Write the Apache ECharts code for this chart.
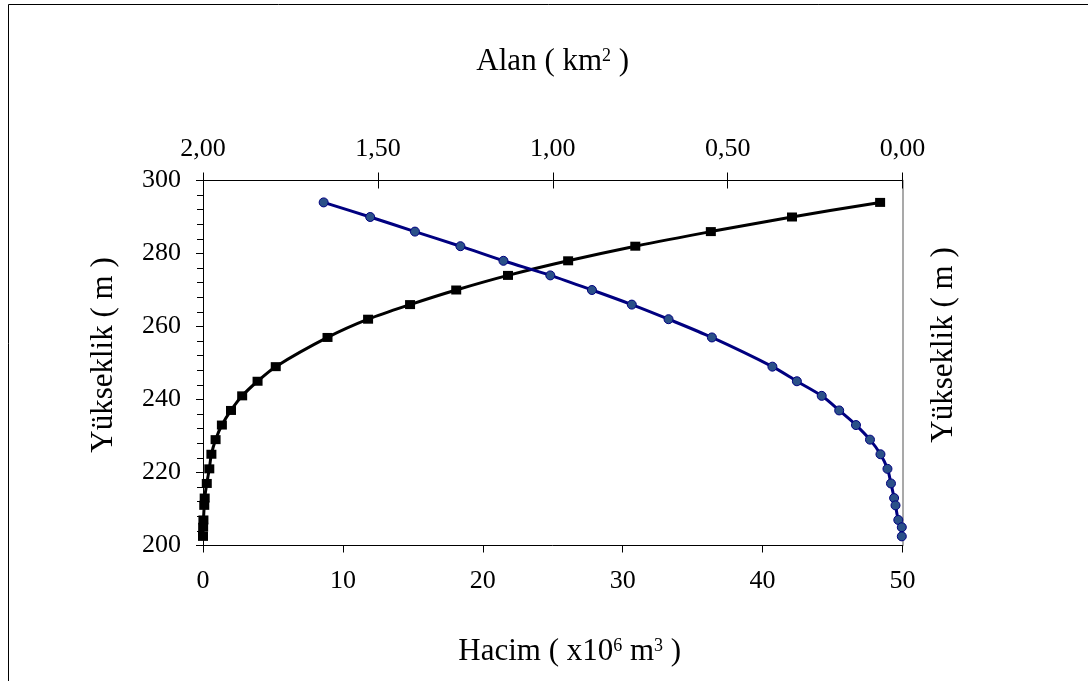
<!DOCTYPE html>
<html>
<head>
<meta charset="utf-8">
<script src="https://cdn.jsdelivr.net/npm/echarts@6/dist/echarts.min.js"></script>
<style>
  html, body { margin: 0; padding: 0; background: #fff; }
  #chart { width: 1088px; height: 681px; }
</style>
</head>
<body>
<div id="chart"></div>
<script>
// Yükseklik (m) – ortak eksen
const elevations = [294, 290, 286, 282, 278, 274, 270, 266, 262, 257, 249, 245, 241, 237, 233, 229, 225, 221, 217, 213, 211, 207, 205, 202.5];
// Hacim (x10^6 m3)
const volumes = [48.4, 42.1, 36.3, 30.9, 26.1, 21.8, 18.1, 14.8, 11.8, 8.9, 5.2, 3.9, 2.8, 2.0, 1.35, 0.9, 0.6, 0.45, 0.27, 0.12, 0.09, 0.03, 0.01, 0.0];
// Alan (km2)
const areas = [1.655, 1.522, 1.394, 1.264, 1.141, 1.007, 0.888, 0.774, 0.669, 0.545, 0.372, 0.302, 0.231, 0.181, 0.133, 0.093, 0.063, 0.043, 0.033, 0.024, 0.02, 0.012, 0.002, 0.002];

const FONT = "'Liberation Serif', 'Times New Roman', serif";
const nameRich = {
  t: { fontFamily: FONT, fontSize: 31, color: '#000', lineHeight: 34 },
  s: { fontFamily: FONT, fontSize: 18, color: '#000', verticalAlign: 'top', lineHeight: 34, padding: [3, 0, 0, 0] },
};
const tickLabel = { fontFamily: FONT, fontSize: 26, color: '#000' };

const chart = echarts.init(document.getElementById('chart'));
chart.setOption({
  animation: false,
  backgroundColor: '#fff',
  // dış çerçeve
  graphic: [
    {
      type: 'rect',
      shape: { x: 8.5, y: 4.5, width: 1200, height: 800 },
      style: { fill: 'none', stroke: '#000', lineWidth: 1 },
      silent: true,
    },
  ],
  grid: {
    left: 203,
    top: 180.5,
    width: 699.5,
    height: 365,
    containLabel: false,
  },
  xAxis: [
    {
      type: 'value',
      position: 'bottom',
      min: 0,
      max: 50,
      interval: 10,
      name: '{t|Hacim ( x10}{s|6}{t| m}{s|3}{t| )}',
      nameLocation: 'middle',
      nameGap: 89,
      nameTextStyle: { rich: nameRich, padding: [0, 0, 0, 34] },
      axisLine: { onZero: false, lineStyle: { color: '#000', width: 1 } },
      axisTick: { inside: false, length: 7, lineStyle: { color: '#000' } },
      axisLabel: Object.assign({ margin: 23 }, tickLabel),
      splitLine: { show: false },
    },
    {
      type: 'value',
      position: 'top',
      min: 0,
      max: 2,
      interval: 0.5,
      inverse: true,
      name: '{t|Alan ( km}{s|2}{t| )}',
      nameLocation: 'middle',
      nameGap: 102,
      nameTextStyle: { rich: nameRich },
      axisLine: { onZero: false, lineStyle: { color: '#000', width: 1 } },
      axisTick: { inside: false, length: 8, lineStyle: { color: '#000' } },
      axisLabel: Object.assign({
        margin: 18,
        formatter: (v) => v.toFixed(2).replace('.', ','),
      }, tickLabel),
      splitLine: { show: false },
    },
    {
      // üst eksen çentiklerinin iç kısmı
      type: 'value',
      position: 'top',
      min: 0,
      max: 2,
      interval: 0.5,
      inverse: true,
      axisLine: { show: false },
      axisTick: { inside: true, length: 8, lineStyle: { color: '#000' } },
      axisLabel: { show: false },
      splitLine: { show: false },
    },
  ],
  yAxis: [
    {
      type: 'value',
      position: 'left',
      min: 200,
      max: 300,
      interval: 20,
      name: '{t|Yükseklik ( m )}',
      nameLocation: 'middle',
      nameRotate: 90,
      nameGap: 82,
      nameTextStyle: { rich: nameRich, padding: [0, 0, 0, 16] },
      axisLine: { show: true, onZero: false, lineStyle: { color: '#000', width: 1 } },
      axisTick: { show: true, inside: false, length: 7, lineStyle: { color: '#000' } },
      minorTick: { show: true, splitNumber: 5, length: 6, lineStyle: { color: '#000' } },
      axisLabel: Object.assign({ margin: 22 }, tickLabel),
      splitLine: { show: false },
    },
    {
      type: 'value',
      position: 'right',
      min: 200,
      max: 300,
      interval: 20,
      name: '{t|Yükseklik ( m )}',
      nameLocation: 'middle',
      nameRotate: 90,
      nameGap: 24,
      nameTextStyle: { rich: nameRich, padding: [0, 0, 0, 36] },
      axisLine: { show: true, onZero: false, lineStyle: { color: '#8c8c8c', width: 1.5 } },
      axisTick: { show: false },
      axisLabel: { show: false },
      splitLine: { show: false },
    },
  ],
  series: [
    {
      name: 'Hacim',
      type: 'line',
      xAxisIndex: 0,
      yAxisIndex: 0,
      smooth: 0.3,
      symbol: 'rect',
      symbolSize: [10, 9],
      lineStyle: { color: '#000', width: 3 },
      itemStyle: { color: '#000' },
      data: volumes.map((v, i) => [v, elevations[i]]),
    },
    {
      name: 'Alan',
      type: 'line',
      xAxisIndex: 1,
      yAxisIndex: 0,
      smooth: 0.3,
      symbol: 'circle',
      symbolSize: 9,
      lineStyle: { color: '#000080', width: 3 },
      itemStyle: { color: '#2a5088', borderColor: '#000080', borderWidth: 1 },
      data: areas.map((v, i) => [v, elevations[i]]),
    },
  ],
});
</script>
</body>
</html>
